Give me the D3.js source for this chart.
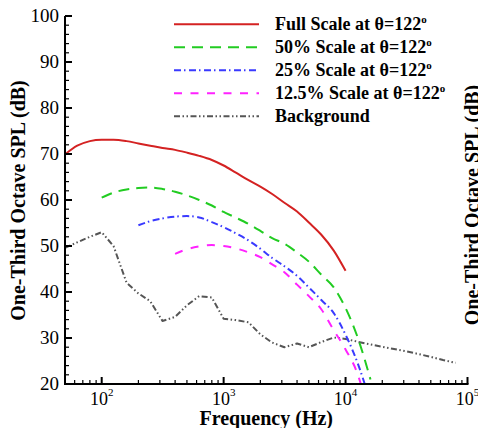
<!DOCTYPE html>
<html>
<head>
<meta charset="utf-8">
<script src="https://cdn.jsdelivr.net/npm/d3@7"></script>
<style>
  html, body { margin: 0; padding: 0; background: #fff; }
  svg { display: block; }
  text { font-family: "Liberation Serif", "Times New Roman", serif; fill: #000; }
</style>
</head>
<body>
<script>
// ---- data ----
const freqFull = [50,63,80,100,125,160,200,250,315,400,500,630,800,1000,1250,1600,2000,2500,3150,4000,5000,6300,8000,10000];
const splFull  = [69.9,71.8,72.8,73.1,73.1,72.8,72.3,71.8,71.3,70.9,70.3,69.6,68.7,67.5,66.0,64.3,62.9,61.3,59.4,57.5,55.1,52.5,49.0,44.6];

const freq50 = [100,125,160,200,250,315,400,500,630,800,1000,1250,1600,2000,2500,3150,4000,5000,6300,8000,10000,12500,16000];
const spl50  = [60.5,61.6,62.3,62.6,62.7,62.4,61.8,61.0,60.0,58.8,57.4,56.2,54.8,53.3,51.7,50.5,48.6,46.6,43.8,41.0,36.5,30.3,21.0];

const freq25 = [200,250,315,400,500,630,800,1000,1250,1600,2000,2500,3150,4000,5000,6300,8000,10000,12500,16000];
const spl25  = [54.5,55.4,56.0,56.4,56.5,56.2,55.2,54.1,52.8,51.2,49.4,47.4,45.6,43.5,41.0,38.3,35.4,30.7,24.7,16.0];

const freq125 = [400,500,630,800,1000,1250,1600,2000,2500,3150,4000,5000,6300,8000,10000,12500,16000];
const spl125  = [48.3,49.3,49.9,50.2,50.0,49.5,48.6,47.6,46.0,44.3,41.6,39.1,36.3,31.7,27.5,22.3,12.0];

const freqBg = [50,63,80,100,125,160,200,250,315,400,500,630,800,1000,1250,1600,2000,2500,3150,4000,5000,6300,8000,10000,12500,16000,20000,25000,31500,40000,50000,63000,80000];
const splBg  = [49.6,50.8,52.0,53.0,50.0,42.0,39.7,38.0,33.7,34.6,37.1,39.1,38.8,34.2,33.9,33.4,30.8,29.0,28.0,28.8,28.0,29.1,30.1,29.8,29.2,28.6,28.1,27.6,27.1,26.5,25.9,25.2,24.6];

const seriesNames = ["Full Scale at \u03B8=122", "50% Scale at \u03B8=122", "25% Scale at \u03B8=122", "12.5% Scale at \u03B8=122", "Background"];
const xTickExps = [2, 3, 4, 5];
const yTickValues = [20, 30, 40, 50, 60, 70, 80, 90, 100];
const xLabel = "Frequency (Hz)";
const yLabel = "One-Third Octave SPL (dB)";

// ---- layout ----
const W = 478, H = 428;
const svg = d3.select("body").append("svg").attr("width", W).attr("height", H);

const x = d3.scaleLog().domain([50, 1e5]).range([65, 467.5]);
const y = d3.scaleLinear().domain([20, 100]).range([384, 16]);

svg.append("clipPath").attr("id", "plotclip")
  .append("rect").attr("x", x.range()[0]).attr("y", y.range()[1])
  .attr("width", x.range()[1] - x.range()[0]).attr("height", y.range()[0] - y.range()[1]);

const styles = [
  { color: "#d42222", dash: null, width: 2 },
  { color: "#22cc22", dash: "11,7", width: 2 },
  { color: "#3a3aff", dash: "7,3,1.5,3.5", width: 2 },
  { color: "#ff22ff", dash: "8,8.5", width: 2 },
  { color: "#555555", dash: "6,2.5,1.5,2.5,1.5,2.5", width: 2 }
];

const series = [
  { f: freqFull, v: splFull, curve: d3.curveMonotoneX },
  { f: freq50, v: spl50, curve: d3.curveMonotoneX },
  { f: freq25, v: spl25, curve: d3.curveMonotoneX },
  { f: freq125, v: spl125, curve: d3.curveMonotoneX },
  { f: freqBg, v: splBg, curve: d3.curveLinear }
];

const plot = svg.append("g").attr("clip-path", "url(#plotclip)");
const drawOrder = [4, 3, 2, 1, 0];
drawOrder.forEach(i => {
  const s = series[i], st = styles[i];
  const pts = s.f.map((f, k) => [f, s.v[k]]);
  const line = d3.line().x(d => x(d[0])).y(d => y(d[1])).curve(s.curve);
  plot.append("path").datum(pts)
    .attr("d", line)
    .attr("fill", "none")
    .attr("stroke", st.color)
    .attr("stroke-width", st.width)
    .attr("stroke-dasharray", st.dash)
    .attr("stroke-linejoin", "round");
});

// ---- axes ----
const axisG = svg.append("g").attr("stroke", "#000");
// left axis line
axisG.append("line").attr("x1", x.range()[0]).attr("x2", x.range()[0])
  .attr("y1", y.range()[1]).attr("y2", y.range()[0] + 1).attr("stroke-width", 2);
// bottom axis line
axisG.append("line").attr("x1", x.range()[0] - 1).attr("x2", x.range()[1] + 1)
  .attr("y1", y.range()[0]).attr("y2", y.range()[0]).attr("stroke-width", 2);

// y ticks (inward)
const yMinor = d3.range(20, 100.1, 2);
yMinor.forEach(v => {
  const major = v % 10 === 0;
  axisG.append("line").attr("x1", x.range()[0]).attr("x2", x.range()[0] + (major ? 7 : 4))
    .attr("y1", y(v)).attr("y2", y(v)).attr("stroke-width", major ? 2 : 1.2);
});
svg.append("g").selectAll("text").data(yTickValues).join("text")
  .attr("x", 59).attr("y", d => y(d)).attr("dy", "0.34em")
  .attr("text-anchor", "end").attr("font-size", 19)
  .text(d => d);

// x ticks (inward)
const xMinorVals = [];
for (let e = 1; e <= 4; e++) for (let k = 2; k <= 9; k++) {
  const v = k * Math.pow(10, e);
  if (v >= 50 && v <= 1e5) xMinorVals.push(v);
}
xMinorVals.forEach(v => {
  axisG.append("line").attr("x1", x(v)).attr("x2", x(v))
    .attr("y1", y.range()[0]).attr("y2", y.range()[0] - 4).attr("stroke-width", 1.2);
});
xTickExps.forEach(e => {
  const v = Math.pow(10, e);
  axisG.append("line").attr("x1", x(v)).attr("x2", x(v))
    .attr("y1", y.range()[0]).attr("y2", y.range()[0] - 7).attr("stroke-width", 2);
});
const xl = svg.append("g").selectAll("text").data(xTickExps).join("text")
  .attr("x", d => x(Math.pow(10, d))).attr("y", 405)
  .attr("text-anchor", "middle").attr("font-size", 18);
xl.append("tspan").text("10");
xl.append("tspan").attr("font-size", 11).attr("dy", -9).text(d => d);

// axis titles
svg.append("text").attr("x", (x.range()[0] + x.range()[1]) / 2).attr("y", 424.5)
  .attr("text-anchor", "middle").attr("font-size", 20).attr("font-weight", "bold")
  .text(xLabel);
svg.append("text").attr("transform", "translate(24.5,200.5) rotate(-90)")
  .attr("text-anchor", "middle").attr("font-size", 20).attr("font-weight", "bold")
  .text(yLabel);
// neighbouring panel's label, cut off at the right edge
svg.append("text").attr("transform", "translate(479,205) rotate(-90)")
  .attr("text-anchor", "middle").attr("font-size", 20).attr("font-weight", "bold")
  .text(yLabel);

// ---- legend ----
const legY0 = 24.3, legDy = 23;
const leg = svg.append("g");
seriesNames.forEach((name, i) => {
  const yy = legY0 + i * legDy;
  const st = styles[i];
  leg.append("line").attr("x1", 174).attr("x2", 259).attr("y1", yy).attr("y2", yy)
    .attr("stroke", st.color).attr("stroke-width", st.width)
    .attr("stroke-dasharray", st.dash);
  const t = leg.append("text").attr("x", 275).attr("y", yy + 6)
    .attr("font-size", 18).attr("font-weight", "bold");
  t.append("tspan").text(name);
  if (i < 4) t.append("tspan").attr("font-size", 11).attr("dy", -7).text("o");
});
</script>
</body>
</html>
